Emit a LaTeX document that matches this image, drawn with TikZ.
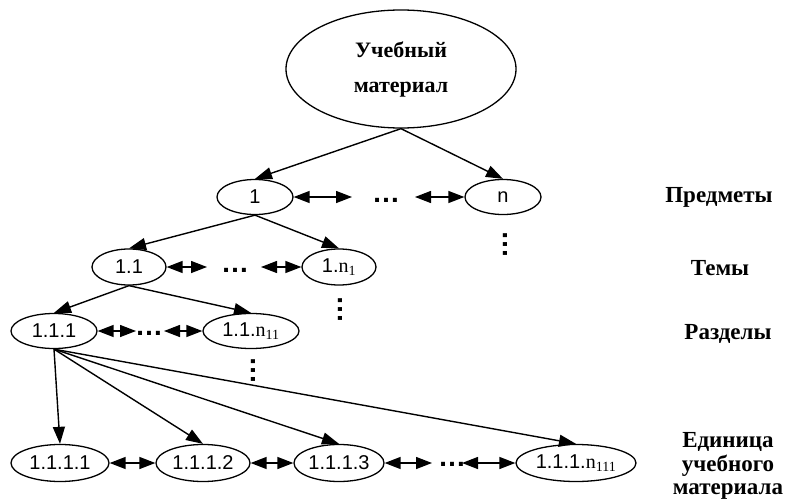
\documentclass[tikz,border=0pt]{standalone}
\usepackage{fontspec}
\setmainfont{Liberation Serif}
\newfontfamily\sansf{Liberation Sans}
\usetikzlibrary{shapes.geometric,arrows.meta}

\tikzset{
  ell/.style={draw, ellipse, line width=1.3pt, inner sep=0pt,
    minimum height=35pt, font=\sansf\fontsize{20}{20}\selectfont},
  lbl/.style={font=\bfseries\fontsize{23}{23.5}\selectfont, align=center},
  tree/.style={line width=1.4pt, -{Triangle[length=17pt,width=12pt]}},
  dbl/.style={line width=1.4pt,
    {Triangle[length=16pt,width=12pt]}-{Triangle[length=16pt,width=12pt]}},
  hdots/.style={font=\sansf\bfseries\fontsize{28}{28}\selectfont, inner sep=0pt},
  vdotsn/.style={font=\sansf\bfseries\fontsize{28}{28}\selectfont, inner sep=0pt}
}
\newcommand{\sn}[1]{{\rmfamily n}\textsubscript{\rmfamily #1}}
\newcommand{\hd}{\ldots}
\newcommand{\vd}{\rotatebox{90}{\ldots}}

\begin{document}
\begin{tikzpicture}[x=1pt,y=-1pt]
\useasboundingbox (0,0) rectangle (790,503);

% root
\node[ell, minimum width=230pt, minimum height=118pt, align=center,
  font=\bfseries\fontsize{22}{35}\selectfont] (root) at (401,69) {Учебный\\материал};

% subjects
\node[ell, minimum width=76pt] (p1) at (255,197) {1};
\node[ell, minimum width=76pt] (pn) at (503,197) {n};
\node[hdots] (hd1) at (386,200) {\hd};
\coordinate (a1) at (352,197);
\coordinate (b1) at (415,197);
\draw[dbl] (p1.east) -- (a1);
\draw[dbl] (b1) -- (pn.west);
\node[vdotsn] (vd1) at (505,244) {\vd};

% topics
\node[ell, minimum width=74pt, minimum height=36pt] (t11) at (129,267) {1.1};
\node[ell, minimum width=74pt, minimum height=36pt] (t1n) at (339,267) {1.\sn{1}};
\node[hdots] (hd2) at (235,270) {\hd};
\coordinate (a2) at (207,267);
\coordinate (b2) at (261,267);
\draw[dbl] (t11.east) -- (a2);
\draw[dbl] (b2) -- (t1n.west);
\node[vdotsn] (vd2) at (340,309) {\vd};

% sections
\node[ell, minimum width=86pt] (s111) at (54,331) {1.1.1};
\node[ell, minimum width=96pt] (s11n) at (251,331) {1.1.\sn{11}};
\node[hdots] (hd3) at (149,333) {\hd};
\coordinate (a3) at (136,331);
\coordinate (b3) at (164,331);
\draw[dbl] (s111.east) -- (a3);
\draw[dbl] (b3) -- (s11n.west);
\node[vdotsn] (vd3) at (253,370) {\vd};

% units
\node[ell, minimum width=98pt, minimum height=37pt] (u1) at (60,463) {1.1.1.1};
\node[ell, minimum width=94pt, minimum height=37pt] (u2) at (203,463) {1.1.1.2};
\node[ell, minimum width=90pt, minimum height=37pt] (u3) at (339,463) {1.1.1.3};
\node[ell, minimum width=120pt, minimum height=37pt] (un) at (576,463) {1.1.1.\sn{111}};
\node[hdots] (hd4) at (452,464) {\hd};
\coordinate (a4) at (432,463);
\coordinate (b4) at (462,463);
\draw[dbl] (u1.east) -- (u2.west);
\draw[dbl] (u2.east) -- (u3.west);
\draw[dbl] (u3.east) -- (a4);
\draw[dbl] (b4) -- (un.west);

% hierarchy edges
\draw[tree] (root.south) -- (p1.north);
\draw[tree] (root.south) -- (pn.north);
\draw[tree] (p1.south) -- (t11.north);
\draw[tree] (p1.south) -- (t1n.north);
\draw[tree] (t11.south) -- (s111.north);
\draw[tree] (t11.south) -- (s11n.north);
\draw[tree] (s111.south) -- (u1.north);
\draw[tree] (s111.south) -- (u2.north);
\draw[tree] (s111.south) -- (u3.north);
\draw[tree] (s111.south) -- (un.north);

% level captions
\node[lbl] (l1) at (719,197) {Предметы};
\node[lbl] (l2) at (720,268) {Темы};
\node[lbl] (l3) at (728,334) {Разделы};
\node[lbl] (l4) at (728,466) {Единица\\учебного\\материала};
\end{tikzpicture}
\end{document}
